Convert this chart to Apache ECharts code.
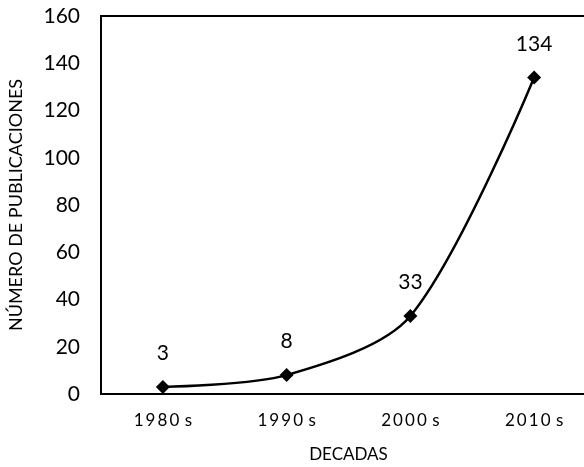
<!DOCTYPE html>
<html>
<head>
<meta charset="utf-8">
<script src="https://cdn.jsdelivr.net/npm/echarts@6/dist/echarts.min.js"></script>
<style>html,body{margin:0;padding:0;background:#fff}#c{width:584px;height:467px}</style>
</head>
<body>
<div id="c"></div>
<script>
const categories = ["1980 s", "1990 s", "2000 s", "2010 s"];
const publications = [3, 8, 33, 134];
const yTicks = [0, 20, 40, 60, 80, 100, 120, 140, 160];

const chart = echarts.init(document.getElementById('c'), null, {renderer: 'canvas'});
const font = 'Lato';
chart.setOption({
  animation: false,
  backgroundColor: '#fff',
  grid: {left: 101, width: 495, top: 16, bottom: 73, outerBoundsMode: 'none', containLabel: false,
    show: true, borderColor: '#000', borderWidth: 2},
  xAxis: {
    type: 'category',
    data: categories,
    name: 'DECADAS',
    nameLocation: 'middle',
    nameGap: 52,
    nameTextStyle: {fontFamily: font, fontSize: 17, color: '#000'},
    axisLine: {lineStyle: {color: '#000', width: 2}},
    axisTick: {show: false},
    axisLabel: {fontFamily: font, fontSize: 17, color: '#000', margin: 18,
      formatter: v => v.replace(' ', '\u200A').split('').join('\u2009')}
  },
  yAxis: {
    type: 'value',
    min: yTicks[0],
    max: yTicks[yTicks.length - 1],
    interval: 20,
    name: 'NÚMERO DE PUBLICACIONES',
    nameLocation: 'middle',
    nameGap: 76,
    nameTextStyle: {fontFamily: font, fontSize: 18, color: '#000'},
    axisLine: {show: true, lineStyle: {color: '#000', width: 2}},
    axisTick: {show: false},
    splitLine: {show: false},
    axisLabel: {fontFamily: font, fontSize: 21, color: '#000', margin: 21}
  },
  series: [{
    type: 'line',
    data: publications,
    smooth: 0.3,
    symbol: 'diamond',
    symbolSize: 14,
    lineStyle: {color: '#000', width: 2.5},
    itemStyle: {color: '#000'},
    label: {show: true, position: 'top', distance: 16, fontFamily: font, fontSize: 21, color: '#000'}
  }]
});
</script>
</body>
</html>
